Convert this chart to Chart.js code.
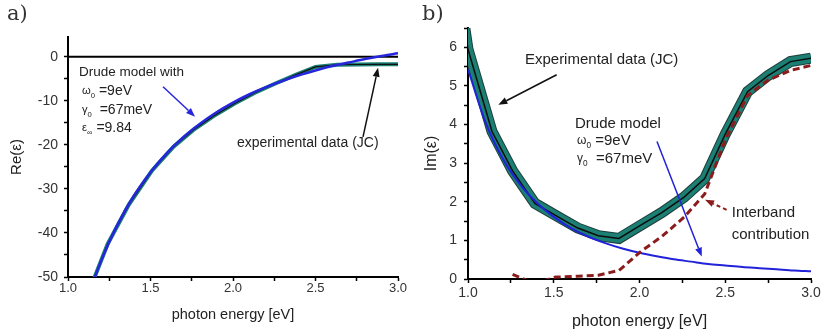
<!DOCTYPE html>
<html>
<head>
<meta charset="utf-8">
<script src="https://cdn.jsdelivr.net/npm/chart.js@4.4.1/dist/chart.umd.min.js"></script>
<style>
  html, body { margin: 0; padding: 0; background: #fff; }
  #wrap { position: relative; width: 821px; height: 334px; overflow: hidden; }
  .panel { position: absolute; top: 0; height: 334px; }
  #pa { left: 0; width: 410px; }
  #pb { left: 410px; width: 411px; }
</style>
</head>
<body>
<div id="wrap">
  <div class="panel" id="pa"><canvas id="chartA" width="410" height="334"></canvas></div>
  <div class="panel" id="pb"><canvas id="chartB" width="411" height="334"></canvas></div>
</div>
<script>
// --- panel a: Re(eps) ---
const reDrudeE = [1.10, 1.15, 1.20, 1.30, 1.40, 1.50, 1.60, 1.70, 1.80, 1.90, 2.00, 2.10, 2.20, 2.30, 2.40, 2.50, 2.60, 2.70, 2.80, 2.90, 3.00];
const reDrude  = [-57.1, -51.4, -46.4, -38.1, -31.5, -26.2, -21.8, -18.2, -15.2, -12.6, -10.4, -8.5, -6.9, -5.5, -4.2, -3.1, -2.1, -1.3, -0.5, 0.2, 0.8];
const reJcE = [1.12, 1.24, 1.37, 1.51, 1.64, 1.76, 1.88, 2.01, 2.13, 2.26, 2.38, 2.50, 2.63, 2.75, 2.88, 3.00];
const reJc  = [-54.0, -42.5, -33.5, -25.8, -20.4, -16.6, -13.5, -10.6, -8.2, -6.0, -4.1, -2.3, -1.8, -1.75, -1.7, -1.7];
const zeroE = [1.0, 3.0];
const zeroV = [0, 0];

// --- panel b: Im(eps) ---
const imDrudeE = [1.0, 1.1, 1.2, 1.3, 1.4, 1.5, 1.6, 1.7, 1.8, 1.9, 2.0, 2.1, 2.2, 2.3, 2.4, 2.5, 2.6, 2.7, 2.8, 2.9, 3.0];
const imDrude  = [5.43, 4.08, 3.14, 2.47, 1.98, 1.61, 1.32, 1.10, 0.93, 0.79, 0.68, 0.59, 0.51, 0.45, 0.39, 0.35, 0.31, 0.28, 0.25, 0.22, 0.20];
const imJcE = [0.89, 1.00, 1.14, 1.26, 1.39, 1.51, 1.64, 1.76, 1.88, 2.01, 2.13, 2.26, 2.38, 2.50, 2.63, 2.75, 2.88, 3.00];
const imJc  = [9.2, 5.95, 3.82, 2.80, 1.96, 1.65, 1.32, 1.12, 1.05, 1.40, 1.72, 2.12, 2.60, 3.75, 4.85, 5.27, 5.63, 5.72];
const interE = [1.26, 1.39, 1.51, 1.64, 1.76, 1.88, 2.01, 2.13, 2.26, 2.38, 2.50, 2.63, 2.75, 2.88, 3.00];
const inter  = [0.12, -0.12, 0.05, 0.07, 0.10, 0.22, 0.72, 1.10, 1.60, 2.20, 3.60, 4.75, 5.15, 5.40, 5.53];

// labelled ticks
const xLabelled = [1.0, 1.5, 2.0, 2.5, 3.0];
const reLabelled = [0, -10, -20, -30, -40, -50];
const imLabelled = [0, 1, 2, 3, 4, 5, 6];

const SANS = '"Liberation Sans", Arial, sans-serif';
const TXT = '#222';

function pts(xs, ys) {
  return xs.map((x, i) => ({ x: x, y: ys[i] }));
}
function has(list, v) {
  return list.some(t => Math.abs(t - v) < 1e-6);
}

function arrow(ctx, x1, y1, x2, y2, color, width, dash) {
  ctx.save();
  ctx.strokeStyle = color;
  ctx.fillStyle = color;
  ctx.lineWidth = width;
  ctx.setLineDash(dash || []);
  const a = Math.atan2(y2 - y1, x2 - x1);
  const hl = 9, hw = 3.5;
  const bx = x2 - hl * Math.cos(a), by = y2 - hl * Math.sin(a);
  ctx.beginPath();
  ctx.moveTo(x1, y1);
  ctx.lineTo(bx, by);
  ctx.stroke();
  ctx.setLineDash([]);
  ctx.beginPath();
  ctx.moveTo(x2, y2);
  ctx.lineTo(bx + hw * Math.sin(a), by - hw * Math.cos(a));
  ctx.lineTo(bx - hw * Math.sin(a), by + hw * Math.cos(a));
  ctx.closePath();
  ctx.fill();
  ctx.restore();
}

// parts: [text, kind]  n = normal, s = small symbol, b = subscript
function rich(ctx, x, y, parts, size) {
  let cx = x;
  for (const [t, k] of parts) {
    const fs = k === 'n' ? size : (k === 's' ? size * 0.8 : size * 0.55);
    const dy = k === 'b' ? size * 0.35 : 0;
    ctx.font = fs + 'px ' + SANS;
    ctx.fillText(t, cx, y + dy);
    cx += ctx.measureText(t).width;
  }
}

// notes plugin: texts and arrows placed in data coordinates
const notesPlugin = {
  id: 'notes',
  afterDraw(chart, args, opts) {
    const { ctx, scales } = chart;
    const px = v => scales.x.getPixelForValue(v);
    const py = v => scales.y.getPixelForValue(v);
    ctx.save();
    ctx.textBaseline = 'middle';
    ctx.textAlign = 'left';
    ctx.fillStyle = TXT;
    for (const n of opts.items) {
      if (n.arrow) {
        arrow(ctx, px(n.from[0]), py(n.from[1]), px(n.to[0]), py(n.to[1]), n.color, n.width || 1.5, n.dash);
      } else if (n.parts) {
        ctx.fillStyle = TXT;
        rich(ctx, px(n.at[0]), py(n.at[1]), n.parts, n.size);
      } else {
        ctx.fillStyle = TXT;
        ctx.font = n.size + 'px ' + SANS;
        ctx.fillText(n.text, px(n.at[0]), py(n.at[1]));
      }
    }
    // panel letter
    ctx.font = '21px "DejaVu Serif", "Liberation Serif", serif';
    ctx.fillStyle = '#333';
    ctx.fillText(opts.letter[0], opts.letter[1], opts.letter[2]);
    ctx.restore();
  }
};

function axisX(fontSize, tickPad, titleSize, titlePad) {
  return {
    type: 'linear', min: 1, max: 3,
    border: { color: '#000', width: 2 },
    grid: { drawOnChartArea: false, drawTicks: true, tickLength: 4, tickWidth: 1.5, tickColor: '#000' },
    ticks: {
      stepSize: 0.25, autoSkip: false, maxRotation: 0, includeBounds: false,
      padding: tickPad, color: '#333', font: { family: SANS, size: fontSize },
      callback: v => has(xLabelled, v) ? v.toFixed(1) : ''
    },
    title: { display: true, text: 'photon energy [eV]', color: TXT, font: { family: SANS, size: titleSize }, padding: { top: 0, bottom: titlePad } },
    afterFit: s => { s.paddingLeft = 0; s.paddingRight = 0; }
  };
}

// ---------- chart a ----------
const ctxA = document.getElementById('chartA').getContext('2d');
const xa = axisX(13, 0, 14.5, 10);
xa.afterFit = s => { s.height = 57; s.paddingLeft = 0; s.paddingRight = 0; };
const chartA = new Chart(ctxA, {
  type: 'line',
  data: {
    datasets: [
      { data: pts(reDrudeE, reDrude), borderColor: '#2626dc', borderWidth: 2.5, cubicInterpolationMode: 'monotone' },
      { data: pts(reJcE, reJc), borderColor: '#111', borderWidth: 1.2 },
      { data: pts(reJcE, reJc), borderColor: '#1b7f74', borderWidth: 4 },
      { data: pts(zeroE, zeroV), borderColor: '#000', borderWidth: 2 }
    ]
  },
  options: {
    responsive: false,
    animation: false,
    layout: { padding: { left: 0, right: 12, top: 37, bottom: 0 } },
    elements: { point: { radius: 0 }, line: { tension: 0 } },
    datasets: { line: { clip: 0 } },
    scales: {
      x: xa,
      y: {
        type: 'linear', min: -50, max: 4.5,
        border: { color: '#000', width: 2 },
        grid: { drawOnChartArea: false, drawTicks: true, tickLength: 4, tickWidth: 1.5, tickColor: '#000' },
        ticks: {
          stepSize: 5, includeBounds: false, autoSkip: false, padding: 6,
          color: '#333', font: { family: SANS, size: 14 },
          callback: v => has(reLabelled, v) ? String(v) : ''
        },
        title: { display: true, text: 'Re(ε)', color: TXT, font: { family: SANS, size: 15 }, padding: { top: 8, bottom: 0 } },
        afterFit: s => { s.width = 68; s.paddingTop = 0; s.paddingBottom = 0; }
      }
    },
    plugins: {
      legend: { display: false },
      tooltip: { enabled: false },
      notes: {
        letter: ['a)', 7, 15],
        items: [
          { text: 'Drude model with', at: [1.067, -3.6], size: 13.5 },
          { parts: [['ω', 's'], ['0', 'b'], [' =9eV', 'n']], at: [1.085, -7.8], size: 14 },
          { parts: [['γ', 's'], ['0', 'b'], ['  =67meV', 'n']], at: [1.085, -12.0], size: 14 },
          { parts: [['ε', 's'], ['∞', 'b'], [' =9.84', 'n']], at: [1.085, -16.1], size: 14 },
          { text: 'experimental data (JC)', at: [2.024, -19.5], size: 14 },
          { arrow: true, from: [1.576, -6.8], to: [1.770, -13.6], color: '#2626dc' },
          { arrow: true, from: [2.788, -18.2], to: [2.879, -2.5], color: '#111' }
        ]
      }
    }
  },
  plugins: [notesPlugin]
});

// ---------- chart b ----------
const ctxB = document.getElementById('chartB').getContext('2d');
const xb = axisX(14, 2, 16, 2.4);
xb.afterFit = s => { s.height = 55; s.paddingLeft = 0; s.paddingRight = 0; };
const chartB = new Chart(ctxB, {
  type: 'line',
  data: {
    datasets: [
      { data: pts(interE, inter), borderColor: '#8b1c1c', borderWidth: 3, borderDash: [7, 4] },
      { data: pts(imDrudeE, imDrude), borderColor: '#2222d8', borderWidth: 2, cubicInterpolationMode: 'monotone' },
      { data: pts(imJcE, imJc), borderColor: '#0d0d0d', borderWidth: 1.5 },
      { data: pts(imJcE, imJc), borderColor: '#1b7f74', borderWidth: 9 },
      { data: pts(imJcE, imJc), borderColor: '#1d3f3b', borderWidth: 11 }
    ]
  },
  options: {
    responsive: false,
    animation: false,
    layout: { padding: { left: 0, right: 10, top: 28, bottom: 0 } },
    elements: { point: { radius: 0 }, line: { tension: 0 } },
    datasets: { line: { clip: 0 } },
    scales: {
      x: xb,
      y: {
        type: 'linear', min: 0, max: 6.5,
        border: { color: '#000', width: 2 },
        grid: { drawOnChartArea: false, drawTicks: true, tickLength: 4, tickWidth: 1.5, tickColor: '#000' },
        ticks: {
          stepSize: 0.5, includeBounds: false, autoSkip: false, padding: 7,
          color: '#333', font: { family: SANS, size: 14 },
          callback: v => has(imLabelled, v) ? String(v) : ''
        },
        title: { display: true, text: 'Im(ε)', color: TXT, font: { family: SANS, size: 16 }, padding: { top: 12, bottom: 0 } },
        afterFit: s => { s.width = 58; s.paddingTop = 0; s.paddingBottom = 0; }
      }
    },
    plugins: {
      legend: { display: false },
      tooltip: { enabled: false },
      notes: {
        letter: ['b)', 12, 15],
        items: [
          { text: 'Experimental data (JC)', at: [1.332, 5.67], size: 15 },
          { arrow: true, from: [1.517, 5.29], to: [1.177, 4.51], color: '#111' },
          { text: 'Drude model', at: [1.624, 4.01], size: 15 },
          { parts: [['ω', 's'], ['0', 'b'], [' =9eV', 'n']], at: [1.636, 3.58], size: 15 },
          { parts: [['γ', 's'], ['0', 'b'], ['  =67meV', 'n']], at: [1.636, 3.11], size: 15 },
          { arrow: true, from: [2.102, 3.56], to: [2.363, 0.58], color: '#2222d8' },
          { text: 'Interband', at: [2.538, 1.70], size: 15 },
          { text: 'contribution', at: [2.538, 1.14], size: 15 },
          { arrow: true, from: [2.508, 1.79], to: [2.382, 2.05], color: '#8b1c1c', width: 2, dash: [4, 3] }
        ]
      }
    }
  },
  plugins: [notesPlugin]
});
</script>
</body>
</html>
